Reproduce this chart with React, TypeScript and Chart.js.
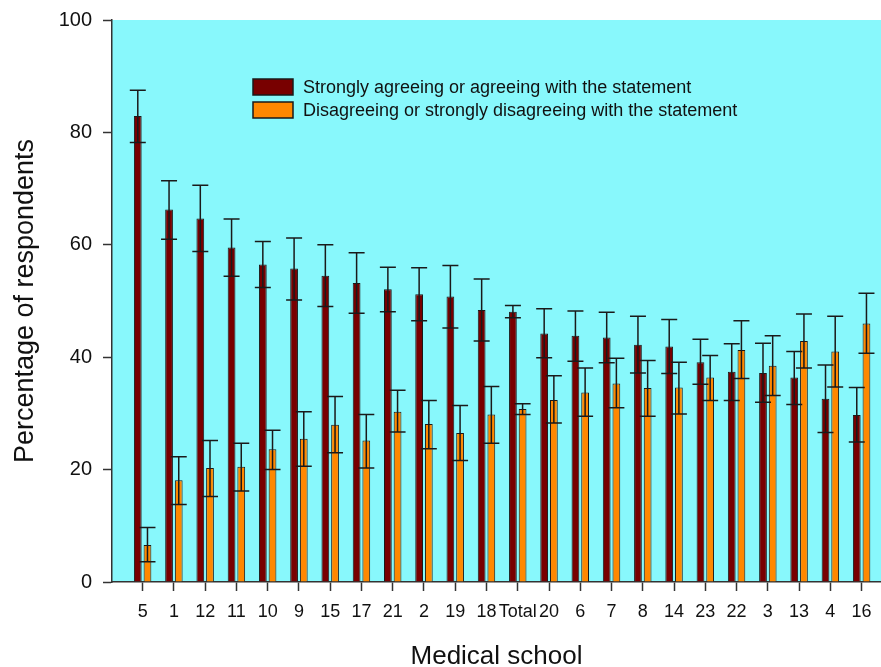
import React, { useEffect, useRef } from "react";
import { Chart, registerables } from "chart.js";

Chart.register(...registerables);

const categories = ["5", "1", "12", "11", "10", "9", "15", "17", "21", "2", "19", "18", "Total", "20", "6", "7", "8", "14", "23", "22", "3", "13", "4", "16"];

const agree = [82.9, 66.3, 64.7, 59.5, 56.5, 55.8, 54.5, 53.2, 52.1, 51.2, 50.8, 48.4, 48.1, 44.2, 43.8, 43.5, 42.2, 41.9, 39.1, 37.4, 37.2, 36.4, 32.6, 29.7];
const agreeHi = [87.5, 71.4, 70.6, 64.6, 60.6, 61.2, 60.0, 58.6, 56.0, 55.9, 56.3, 53.9, 49.2, 48.6, 48.2, 48.0, 47.3, 46.7, 43.2, 42.4, 42.5, 41.0, 38.6, 34.6];
const agreeLo = [78.2, 61.0, 58.8, 54.4, 52.4, 50.2, 49.0, 47.8, 48.1, 46.5, 45.2, 42.9, 47.0, 39.9, 39.3, 39.0, 37.2, 37.1, 35.2, 32.3, 32.0, 31.6, 26.6, 24.9];

const disagree = [6.6, 18.1, 20.3, 20.5, 23.6, 25.5, 28.0, 25.2, 30.3, 28.1, 26.5, 29.8, 30.8, 32.4, 33.7, 35.3, 34.5, 34.6, 36.4, 41.3, 38.5, 42.9, 41.0, 46.0];
const disagreeHi = [9.7, 22.3, 25.2, 24.7, 27.0, 30.3, 33.0, 29.8, 34.1, 32.3, 31.4, 34.8, 31.7, 36.7, 38.1, 39.8, 39.4, 39.1, 40.3, 46.5, 43.8, 47.7, 47.3, 51.4];
const disagreeLo = [3.6, 13.8, 15.2, 16.2, 20.0, 20.6, 23.0, 20.3, 26.7, 23.7, 21.6, 24.7, 29.8, 28.3, 29.5, 31.0, 29.5, 29.9, 32.3, 36.2, 33.2, 38.1, 34.7, 40.7];

const yTicks = [0, 20, 40, 60, 80, 100];

const seriesLabels = [
  "Strongly agreeing or agreeing with the statement",
  "Disagreeing or strongly disagreeing with the statement",
];

const FONT = "'Liberation Sans', Arial, Helvetica, sans-serif";
const AXIS_COLOR = "#333333";
const BG = "#88F8FC";
const RED = "#780000";
const ORANGE = "#FF8800";

const bgPlugin = {
  id: "plotBg",
  beforeDraw(chart: any) {
    const { ctx, chartArea } = chart;
    ctx.save();
    ctx.fillStyle = BG;
    ctx.fillRect(chartArea.left, chartArea.top, chartArea.right - chartArea.left, chartArea.bottom - chartArea.top);
    ctx.restore();
  },
};

const errorBarPlugin = {
  id: "errorBars",
  afterDatasetsDraw(chart: any) {
    const { ctx } = chart;
    const yScale = chart.scales.y;
    ctx.save();
    ctx.strokeStyle = "#1a1a1a";
    ctx.lineWidth = 1.5;
    chart.data.datasets.forEach((ds: any, di: number) => {
      const meta = chart.getDatasetMeta(di);
      meta.data.forEach((bar: any, i: number) => {
        const hi = ds.errHi[i];
        const lo = ds.errLo[i];
        const x = bar.x;
        const yHi = yScale.getPixelForValue(hi);
        const yLo = yScale.getPixelForValue(lo);
        const half = 8;
        ctx.beginPath();
        ctx.moveTo(x, yHi);
        ctx.lineTo(x, yLo);
        ctx.moveTo(x - half, yHi);
        ctx.lineTo(x + half, yHi);
        ctx.moveTo(x - half, yLo);
        ctx.lineTo(x + half, yLo);
        ctx.stroke();
      });
    });
    ctx.restore();
  },
};

const legendPlugin = {
  id: "customLegend",
  afterDraw(chart: any) {
    const { ctx, chartArea } = chart;
    const x0 = chartArea.left + 141;
    const y0 = chartArea.top + 59;
    const boxW = 40;
    const boxH = 16;
    const gap = 23;
    ctx.save();
    ctx.font = `18px ${FONT}`;
    ctx.textBaseline = "middle";
    ctx.textAlign = "left";
    chart.data.datasets.forEach((ds: any, i: number) => {
      const y = y0 + i * gap;
      ctx.fillStyle = ds.backgroundColor;
      ctx.fillRect(x0, y, boxW, boxH);
      ctx.strokeStyle = "#1a1a1a";
      ctx.lineWidth = 1.5;
      ctx.strokeRect(x0, y, boxW, boxH);
      ctx.fillStyle = "#111111";
      ctx.fillText(ds.label, x0 + boxW + 10, y + boxH / 2 + 1);
    });
    ctx.restore();
  },
};

export default function App() {
  const ref = useRef<HTMLCanvasElement>(null);

  useEffect(() => {
    document.body.style.margin = "0";
    const canvas = ref.current;
    if (!canvas) return;

    const chart = new Chart(canvas, {
      type: "bar",
      data: {
        datasets: [
          {
            label: seriesLabels[0],
            data: agree.map((v, i) => ({ x: i, y: v })),
            backgroundColor: RED,
            borderColor: "#1a1a1a",
            borderWidth: 1,
            errHi: agreeHi,
            errLo: agreeLo,
          } as any,
          {
            label: seriesLabels[1],
            data: disagree.map((v, i) => ({ x: i, y: v })),
            backgroundColor: ORANGE,
            borderColor: "#1a1a1a",
            borderWidth: 1,
            errHi: disagreeHi,
            errLo: disagreeLo,
          } as any,
        ],
      },
      options: {
        responsive: false,
        animation: false,
        devicePixelRatio: 1,
        categoryPercentage: 0.62,
        barPercentage: 0.8,
        layout: { padding: { top: 20, left: 0, right: 0, bottom: 0 } },
        plugins: {
          legend: { display: false },
          tooltip: { enabled: false },
        },
        scales: {
          x: {
            type: "linear",
            min: -0.98,
            max: 23.62,
            offset: false,
            afterBuildTicks: (scale: any) => {
              scale.ticks = categories.map((_, i) => ({ value: i }));
            },
            afterFit: (scale: any) => {
              scale.height = 85;
              scale.paddingLeft = 0;
              scale.paddingRight = 0;
            },
            ticks: {
              autoSkip: false,
              maxRotation: 0,
              minRotation: 0,
              padding: 10,
              color: "#111111",
              font: { family: FONT, size: 18 },
              callback: (value: any) => categories[Math.round(Number(value))] ?? "",
            },
            grid: {
              display: true,
              offset: false,
              drawOnChartArea: false,
              drawTicks: true,
              tickLength: 9,
              tickColor: AXIS_COLOR,
              tickWidth: 1.5,
              color: AXIS_COLOR,
            },
            border: { display: true, color: AXIS_COLOR, width: 1.5 },
            title: {
              display: true,
              text: "Medical school",
              color: "#111111",
              font: { family: FONT, size: 26 },
              padding: { top: 0, bottom: -5 },
            },
          },
          y: {
            min: 0,
            max: 100,
            afterBuildTicks: (scale: any) => {
              scale.ticks = yTicks.map((v) => ({ value: v }));
            },
            afterFit: (scale: any) => {
              scale.width = 112;
              scale.paddingTop = 0;
              scale.paddingBottom = 0;
            },
            ticks: {
              padding: 11,
              color: "#111111",
              font: { family: FONT, size: 20 },
            },
            grid: {
              display: true,
              drawOnChartArea: false,
              drawTicks: true,
              tickLength: 9,
              tickColor: AXIS_COLOR,
              tickWidth: 1.5,
              color: AXIS_COLOR,
            },
            border: { display: true, color: AXIS_COLOR, width: 1.5 },
            title: {
              display: true,
              text: "Percentage of respondents",
              color: "#111111",
              font: { family: FONT, size: 27 },
              padding: { top: 9, bottom: 0 },
            },
          },
        },
      } as any,
      plugins: [bgPlugin, errorBarPlugin, legendPlugin],
    });

    return () => chart.destroy();
  }, []);

  return (
    <div style={{ position: "absolute", left: 0, top: 0, width: 881, height: 667, background: "#ffffff" }}>
      <canvas ref={ref} width={881} height={667} />
    </div>
  );
}
